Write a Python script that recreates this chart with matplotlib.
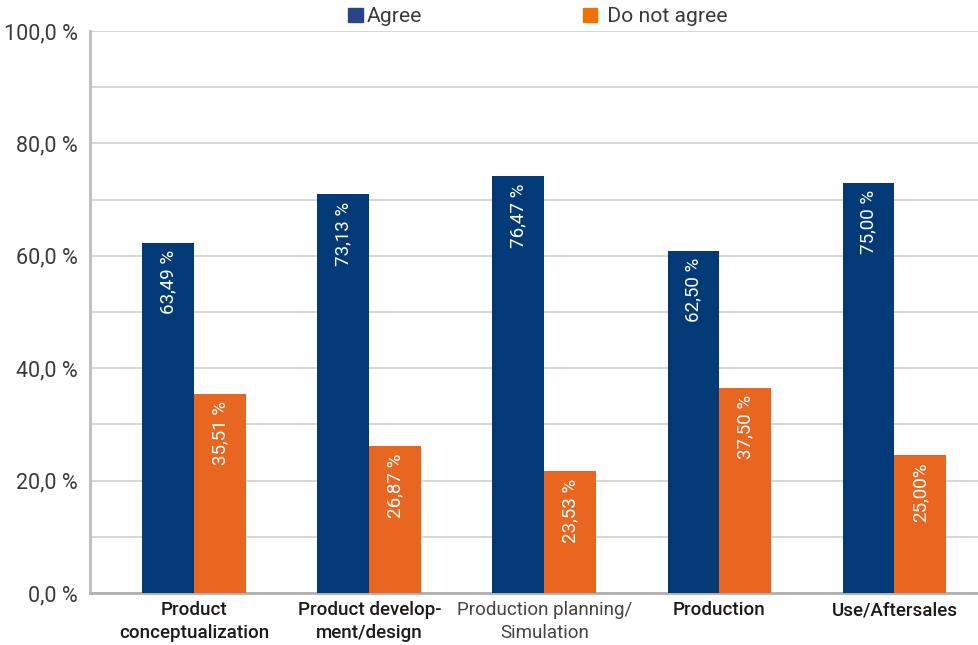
import matplotlib
matplotlib.use('Agg')
import matplotlib.pyplot as plt
import matplotlib.ticker as mticker
from matplotlib.patches import Patch
import numpy as np

# data
categories = ['Product\nconceptualization', 'Product develop-\nment/design',
              'Production planning/\nSimulation', 'Production', 'Use/Aftersales']
cat_weight = ['medium', 'medium', 'normal', 'medium', 'medium']
agree = [62.3, 71.0, 74.2, 60.9, 73.0]
not_agree = [35.4, 26.2, 21.7, 36.5, 24.6]
agree_labels = ['63,49 %', '73,13 %', '76,47 %', '62,50 %', '75,00 %']
not_agree_labels = ['35,51 %', '26,87 %', '23,53 %', '37,50 %', '25,00%']

blue = '#023a78'
orange = '#e96620'
grid_col = '#d4d4d4'
txt_col = '#3a3a3a'

plt.rcParams['font.family'] = ['Roboto', 'DejaVu Sans']

fig = plt.figure(figsize=(9.79, 6.45), dpi=100)
ax = fig.add_axes([90/979, 52/645, 889/979, 562/645])

x = np.arange(len(categories))
w = 0.297
b1 = ax.bar(x - w/2, agree, w, color=blue, zorder=3)
b2 = ax.bar(x + w/2, not_agree, w, color=orange, zorder=3)

for bars, labs in [(b1, agree_labels), (b2, not_agree_labels)]:
    for r, lab in zip(bars, labs):
        ax.text(r.get_x() + r.get_width()/2, r.get_height() - 1.3, lab,
                rotation=90, ha='center', va='top', color='white',
                fontsize=13.5, zorder=4)

ax.set_ylim(0, 100)
ax.set_xlim(-0.597, 4.483)
ax.yaxis.set_major_locator(mticker.MultipleLocator(20))
ax.yaxis.set_minor_locator(mticker.MultipleLocator(10))
ax.yaxis.set_major_formatter(mticker.FuncFormatter(
    lambda v, p: f'{v:.1f} %'.replace('.', ',')))
ax.grid(axis='y', which='both', color=grid_col, linewidth=1.3, zorder=0)
ax.tick_params(axis='y', which='both', length=0, pad=9, labelsize=15.5,
               labelcolor=txt_col)

ax.set_xticks(x)
ax.set_xticklabels(categories)
ax.tick_params(axis='x', length=0, pad=6, labelsize=13.5, labelcolor='#1a1a1a')
for t, wt in zip(ax.get_xticklabels(), cat_weight):
    t.set_fontweight(wt)
    t.set_linespacing(1.35)
    if wt == 'normal':
        t.set_color('#444444')

for s in ['top', 'right']:
    ax.spines[s].set_visible(False)
ax.spines['left'].set_color('#bdbdbd')
ax.spines['left'].set_linewidth(2)
ax.spines['bottom'].set_color('#b0b0b0')
ax.spines['bottom'].set_linewidth(2)

# legend
fig.legend(handles=[Patch(color='#27438c'), Patch(color='#ee7203')],
           labels=['Agree', ' Do not agree'], loc='upper center',
           bbox_to_anchor=(0.549, 1.018), ncol=2, frameon=False,
           handlelength=0.7, handleheight=0.7,
           handletextpad=0.2, columnspacing=7.6,
           prop={'size': 15.2}, labelcolor=txt_col)

fig.savefig('out.png', dpi=100)
